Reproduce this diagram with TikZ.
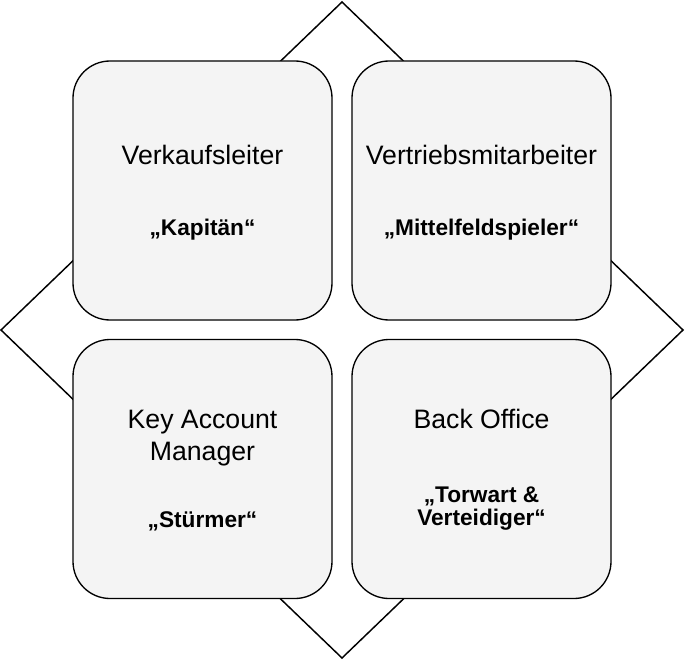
\documentclass[tikz,border=0pt]{standalone}
\usepackage{fontspec}
\setmainfont{Liberation Sans}
\usetikzlibrary{positioning}
\definecolor{boxgray}{HTML}{F4F4F4}

\tikzset{
  rolebox/.style={draw=black, line width=1pt, fill=boxgray, rounded corners=27.75pt,
                  minimum size=194.25pt, inner sep=0pt},
  roletitle/.style={font=\fontsize{20}{24}\selectfont, align=center, anchor=base},
  nickname/.style={font=\fontsize{17}{17.25}\selectfont\bfseries, align=center, anchor=base}
}

\begin{document}
\begin{tikzpicture}[x=0.75pt, y=-0.75pt]
                    \useasboundingbox (0,0) rectangle (685,660);
                    % Raute im Hintergrund
                    \draw[line width=1.1pt] (342,2) -- (683,330) -- (342,658) -- (1,330) -- cycle;
                    % vier Rollen
                    \node[rolebox] (vkl) at (202.5,190.5) {};
                    \node[rolebox] (vma) at (481.5,190.5) {};
                    \node[rolebox] (kam) at (202.5,469) {};
                    \node[rolebox] (bo) at (481.5,469) {};
                    \node[roletitle] (vkltitle) at (202.5,164) {Verkaufsleiter};
                    \node[nickname] (vklnick) at (202.5,235) {„Kapitän“};
                    \node[roletitle] (vmatitle) at (481.5,164) {Vertriebsmitarbeiter};
                    \node[nickname] (vmanick) at (481.5,235) {„Mittelfeldspieler“};
                    \node[roletitle] (kamtitle) at (202.5,460) {Key Account\\Manager};
                    \node[nickname] (kamnick) at (202.5,527) {„Stürmer“};
                    \node[roletitle] (botitle) at (481.5,428) {Back Office};
                    \node[nickname] (bonick) at (481.5,525) {„Torwart \&\\Verteidiger“};
                \end{tikzpicture}
\end{document}
